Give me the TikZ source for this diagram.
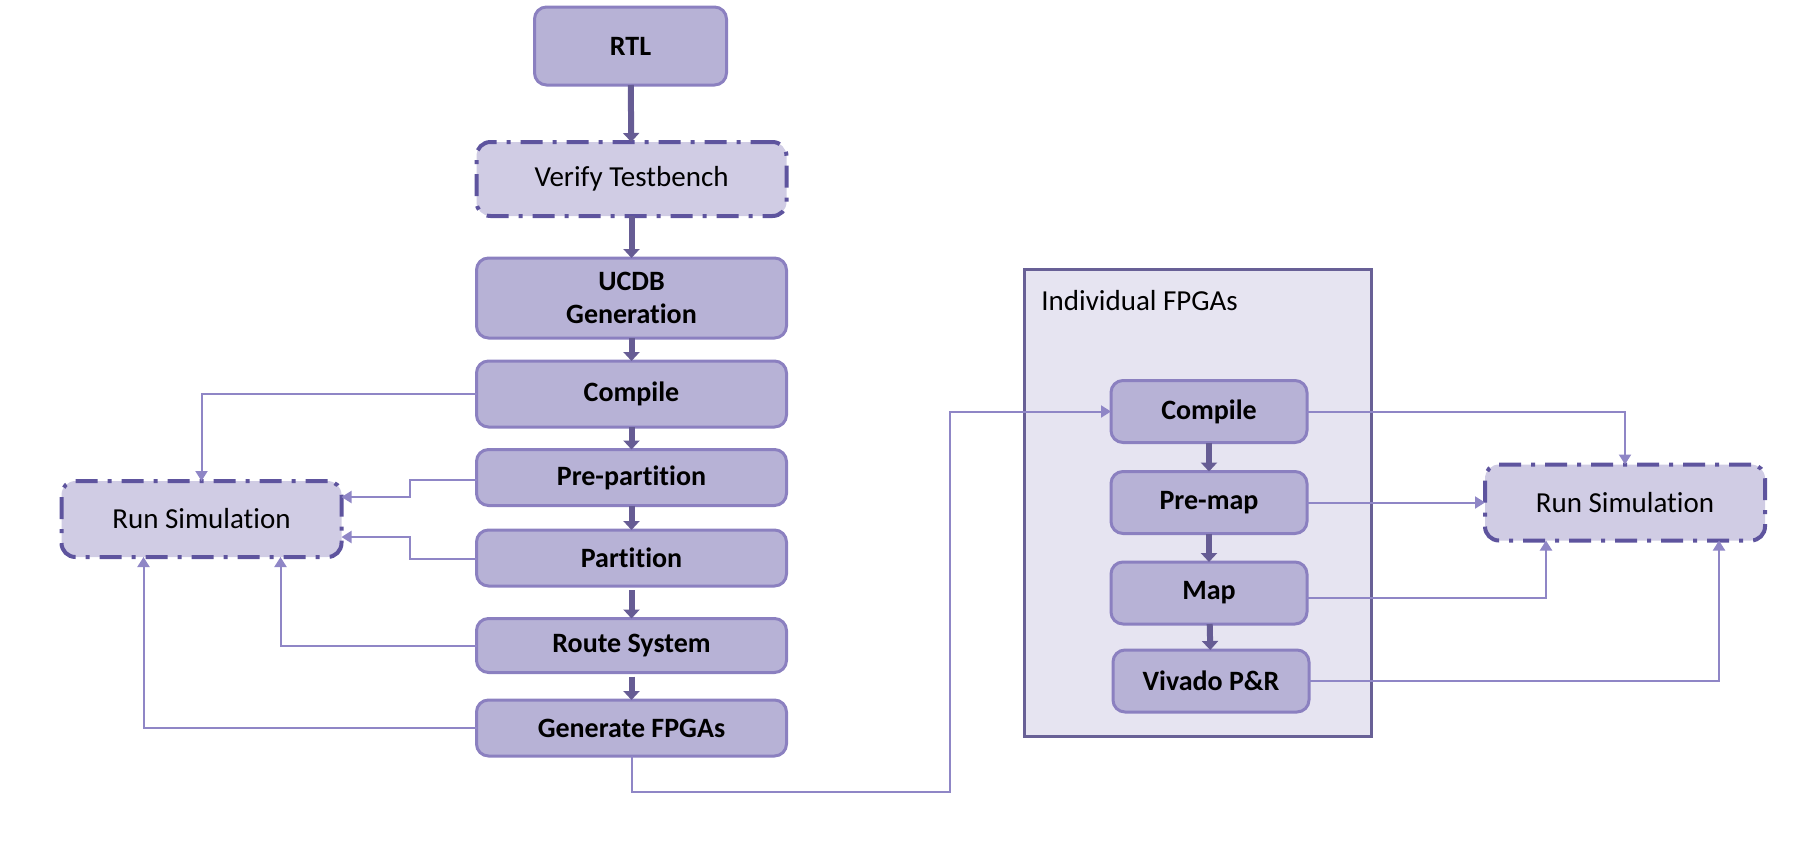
\documentclass[tikz,border=0pt]{standalone}
\usepackage{fontspec}
\setmainfont{Carlito}[Ligatures={NoCommon}]
\usetikzlibrary{arrows.meta}
\definecolor{flowlav}{RGB}{183, 178, 214}
\definecolor{flowedge}{RGB}{139, 128, 192}
\definecolor{flowpale}{RGB}{208, 204, 228}
\definecolor{flowdark}{RGB}{94, 84, 158}
\definecolor{flowmist}{RGB}{230, 228, 241}
\definecolor{flowframe}{RGB}{104, 96, 150}
\definecolor{flowarrow}{RGB}{102, 92, 148}
\definecolor{flowline}{RGB}{143, 134, 198}

\begin{document}
\begin{tikzpicture}[x=0.5pt, y=-0.5pt,
		stepbox/.style={draw=flowedge, fill=flowlav, line width=1.5pt, rounded corners=6pt, minimum width=155pt, minimum height=29pt, inner sep=2pt, outer sep=0pt, align=center, font=\fontsize{14}{16.5}\selectfont\bfseries},
		fpgabox/.style={stepbox, minimum width=98pt, minimum height=31pt},
		simbox/.style={draw=flowdark, fill=flowpale, line width=2pt, rounded corners=7pt, dash pattern=on 11pt off 5pt on 2pt off 5pt, minimum width=140pt, minimum height=38pt, outer sep=0pt, font=\fontsize{14.5}{16.5}\selectfont},
		flow/.style={draw=flowarrow, line width=3pt, -{Triangle[width=8pt,length=4.5pt]}},
		feed/.style={draw=flowline, line width=1pt, -{Triangle[width=6pt,length=5pt]}}]
			\useasboundingbox (0, 0) rectangle (1804, 858);
			% frame for the per-FPGA steps
			\filldraw [fill=flowmist, draw=flowframe, line width=1.5pt] (1024, 269) rectangle (1371, 736);
			\node [anchor=west, inner sep=0pt, font=\fontsize{14.5}{16.5}\selectfont] (fpgalabel) at (1041, 301) {Individual FPGAs};

			% main column
			\node [stepbox, minimum width=96pt, minimum height=39pt] (rtl) at (630.5, 46) {RTL};
			\node [simbox, minimum width=155pt, minimum height=37pt] (verify) at (631.5, 179) {Verify Testbench};
			\node [stepbox, minimum height=40pt] (ucdb) at (631.5, 298) {UCDB\\Generation};
			\node [stepbox, minimum height=33pt] (comp) at (631.5, 394) {Compile};
			\node [stepbox, minimum height=28pt] (prep) at (631.5, 477.5) {Pre-partition};
			\node [stepbox, minimum height=28pt] (part) at (631.5, 558) {Partition};
			\node [stepbox, minimum height=27pt] (route) at (631.5, 645.5) {Route System};
			\node [stepbox, minimum height=28pt] (gen) at (631.5, 728) {Generate FPGAs};
			\node [simbox] (simL) at (201.5, 519) {Run Simulation};

			% per-FPGA column
			\node [fpgabox] (fcomp) at (1209, 411.5) {Compile};
			\node [fpgabox] (premap) at (1209, 502.5) {Pre-map};
			\node [fpgabox] (map) at (1209, 593) {Map};
			\node [fpgabox] (vivado) at (1211, 681) {Vivado P\&R};
			\node [simbox] (simR) at (1625, 502.5) {Run Simulation};
			\coordinate (turn) at (950, 792);

			\draw [flow] (rtl) -- (verify);
			\draw [flow] (verify) -- (ucdb);
			\draw [flow] (ucdb) -- (comp);
			\draw [flow] (comp) -- (prep);
			\draw [flow] (prep) -- (part);
			\draw [flow, shorten <=2pt] (part) -- (route);
			\draw [flow, shorten <=2pt] (route) -- (gen);
			\draw [flow] (fcomp) -- (premap);
			\draw [flow] (premap) -- (map);
			\draw [flow] (map) -- (vivado);

			\draw [feed] (comp.west) -| (simL.north);
			\draw [feed] ([yshift=-1pt]prep.west) -- ++(-67, 0) |- ([yshift=11pt]simL.east);
			\draw [feed] ([yshift=-0.5pt]part.west) -- ++(-67, 0) |- ([yshift=-9pt]simL.east);
			\draw [feed] (route.west) -| ([xshift=39.5pt]simL.south);
			\draw [feed] (gen.west) -| ([xshift=-29pt]simL.south);
			\draw [feed] (gen.south) |- (turn) |- (fcomp.west);
			\draw [feed] (fcomp.east) -| (simR.north);
			\draw [feed] (premap.east) -- (simR.west);
			\draw [feed] ([yshift=-2.5pt]map.east) -| ([xshift=-39.5pt]simR.south);
			\draw [feed] (vivado.east) -| ([xshift=47pt]simR.south);
		\end{tikzpicture}
\end{document}
